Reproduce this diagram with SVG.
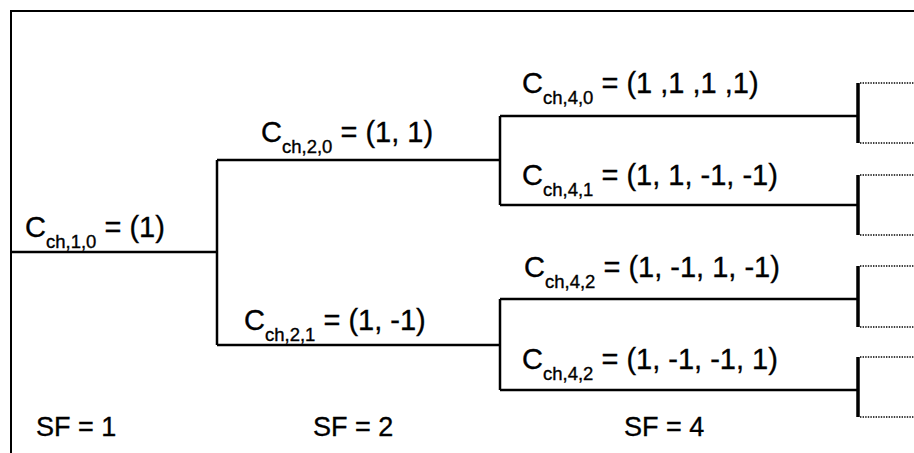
<svg xmlns="http://www.w3.org/2000/svg" width="914" height="453" viewBox="0 0 914 453">
<style>
text{font-family:"Liberation Sans",Arial,sans-serif;font-size:29px;fill:#000;stroke:#000;stroke-width:0.35}
.sub{font-size:18.5px}
.sf{font-size:27px}
.ln{stroke:#000;stroke-width:2.5;fill:none}
.bar{stroke:#000;stroke-width:3.5;fill:none}
.dot{stroke:#000;stroke-width:1.6;stroke-dasharray:1.4 1.2;fill:none}
</style>
<rect width="914" height="453" fill="#fff"/>
<path d="M11,453 V11 H914" stroke="#000" stroke-width="2" fill="none"/>
<g id="connectors">
<path class="ln" d="M12,252 H217 M217,160 V345 M217,160 H500 M217,345 H500"/>
<path class="ln" d="M500,116 V205 M500,116 H858 M500,205 H858"/>
<path class="ln" d="M500,299 V390 M500,299 H858 M500,390 H858"/>
<path class="bar" d="M858,83 V143 M858,175 V235 M858,266 V327 M858,357 V417"/>
<path class="dot" d="M860,83 H914 M860,143 H914 M860,175 H914 M860,235 H914 M860,266 H914 M860,327 H914 M860,357 H914 M860,417 H914"/>
</g>
<g id="c10"><text x="25" y="237">C<tspan class="sub" dy="11">ch,1,0</tspan><tspan dy="-11"> = (1)</tspan></text></g>
<g id="c20"><text x="261" y="142">C<tspan class="sub" dy="11">ch,2,0</tspan><tspan dy="-11"> = (1, 1)</tspan></text></g>
<g id="c21"><text x="244" y="330">C<tspan class="sub" dy="11">ch,2,1</tspan><tspan dy="-11"> = (1, -1)</tspan></text></g>
<g id="c40"><text x="522" y="93">C<tspan class="sub" dy="11">ch,4,0</tspan><tspan dy="-11"> = (1 ,1 ,1 ,1)</tspan></text></g>
<g id="c41"><text x="522" y="185">C<tspan class="sub" dy="11">ch,4,1</tspan><tspan dy="-11"> = (1, 1, -1, -1)</tspan></text></g>
<g id="c42a"><text x="524" y="277">C<tspan class="sub" dy="11">ch,4,2</tspan><tspan dy="-11"> = (1, -1, 1, -1)</tspan></text></g>
<g id="c42b"><text x="522" y="369">C<tspan class="sub" dy="11">ch,4,2</tspan><tspan dy="-11"> = (1, -1, -1, 1)</tspan></text></g>
<g id="sf1"><text class="sf" x="36" y="436">SF = 1</text></g>
<g id="sf2"><text class="sf" x="313" y="436">SF = 2</text></g>
<g id="sf4"><text class="sf" x="624" y="436">SF = 4</text></g>
</svg>
